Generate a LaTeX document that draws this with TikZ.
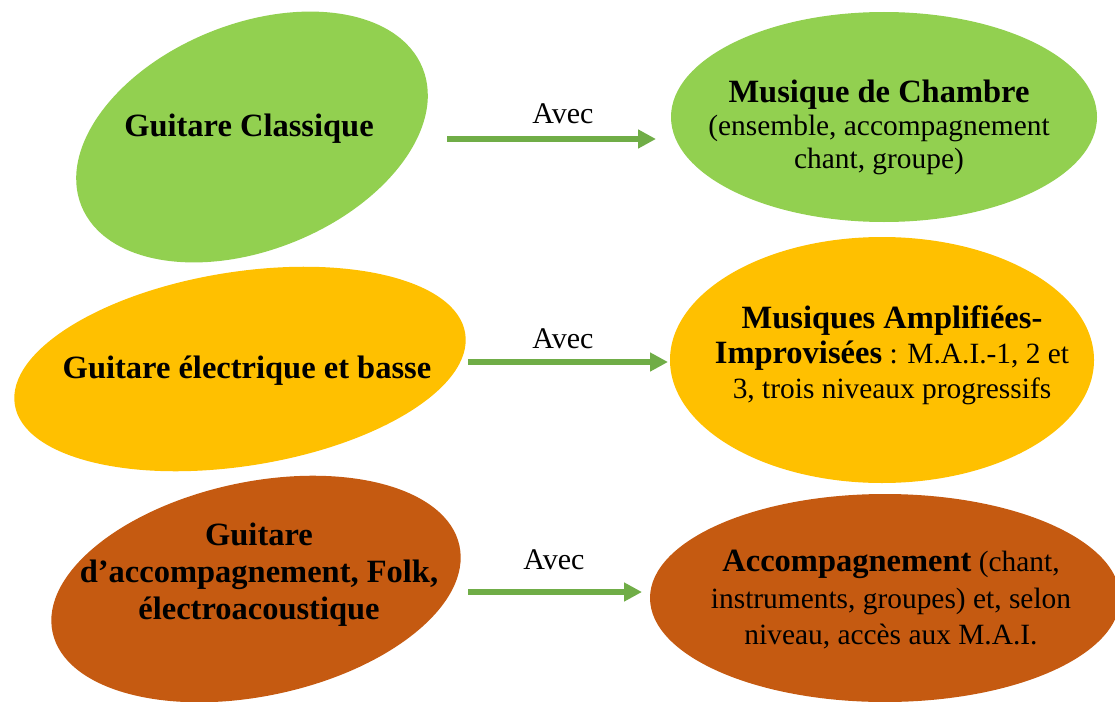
\documentclass[tikz,border=0pt]{standalone}
\usepackage{fontspec}
\setmainfont{Liberation Serif}
\usetikzlibrary{arrows.meta,shapes.geometric}
\definecolor{vert}{HTML}{92D050}
\definecolor{jaune}{HTML}{FFC000}
\definecolor{brun}{HTML}{C55A11}
\definecolor{fleche}{HTML}{70AD47}
\newcommand{\gras}[1]{{\fontsize{32.5}{35}\selectfont\bfseries #1}}

\begin{document}
\begin{tikzpicture}[x=1pt, y=-1pt,
  bulle/.style={ellipse, inner sep=0pt, outer sep=0pt},
  texte/.style={align=center, inner sep=0pt, font=\fontsize{29.4}{35}\selectfont},
  avec/.style={fleche, line width=5.5pt, -{Triangle[length=18pt,width=18pt]}},
  lbl/.style={inner sep=0pt, text=black, font=\fontsize{30}{35}\selectfont}]
  \useasboundingbox (0,0) rectangle (1115,701);

  % left column
  \node[bulle, fill=vert, minimum width=368pt, minimum height=226pt, rotate=22] (GCb) at (252,137) {};
  \node[texte] (GC) at (249,129) {\gras{Guitare Classique}};
  \node[bulle, fill=jaune, minimum width=456pt, minimum height=194pt, rotate=9] (GEb) at (240,369) {};
  \node[texte] (GE) at (247,371) {\gras{Guitare électrique et basse}};
  \node[bulle, fill=brun, minimum width=416pt, minimum height=214pt, rotate=12] (GAb) at (256,589) {};
  \node[texte, font=\fontsize{29.4}{37}\selectfont] (GA) at (259,575) {\gras{Guitare}\\\gras{d’accompagnement, Folk,}\\\gras{électroacoustique}};

  % right column
  \node[bulle, fill=vert, minimum width=426pt, minimum height=210pt] (MC) at (884,117) {};
  \node[texte, font=\fontsize{29.4}{33}\selectfont] (MCt) at (879,127) {\gras{Musique de Chambre}\\(ensemble, accompagnement\\chant, groupe)};
  \node[bulle, fill=jaune, minimum width=424pt, minimum height=246pt] (MA) at (882,360) {};
  \node[texte] (MAt) at (892,355) {\gras{Musiques Amplifiées-}\\\gras{Improvisées} : M.A.I.-1, 2 et\\3, trois niveaux progressifs};
  \node[bulle, fill=brun, minimum width=470pt, minimum height=208pt] (AC) at (885,598) {};
  \node[texte, font=\fontsize{29.4}{36.5}\selectfont] (ACt) at (891,600) {\gras{Accompagnement} (chant,\\instruments, groupes) et, selon\\niveau, accès aux M.A.I.};

  % arrows
  \coordinate (d1) at (447,139);
  \coordinate (d2) at (468,362);
  \coordinate (d3) at (468,592);
  \draw[avec, shorten >=15pt] (d1) -- node[lbl, above=12pt, xshift=4pt] (l1) {Avec} (d1 -| MC.west);
  \draw[avec, shorten >=2pt] (d2) -- node[lbl, above=10pt, xshift=-6pt] (l2) {Avec} (d2 -| MA.west);
  \draw[avec, shorten >=8pt] (d3) -- node[lbl, above=19pt, xshift=-5pt] (l3) {Avec} (d3 -| AC.west);
\end{tikzpicture}
\end{document}
